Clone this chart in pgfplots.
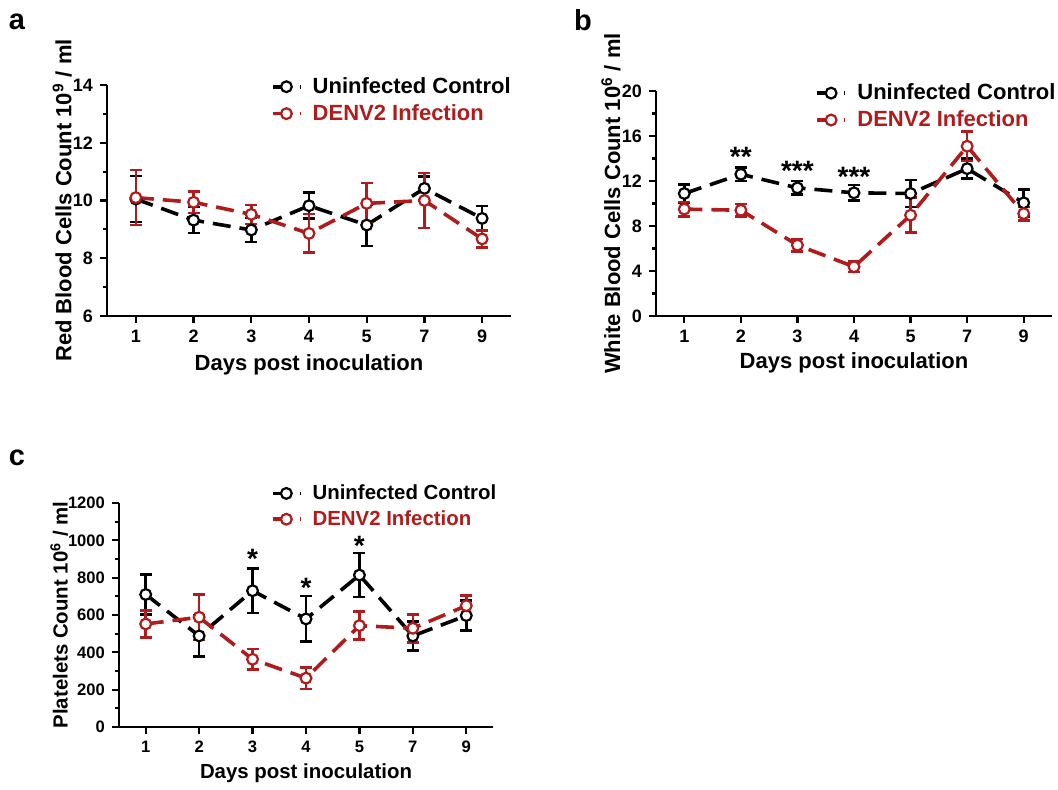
\documentclass[border=0pt]{standalone}
\usepackage{pgfplots}
\pgfplotsset{compat=1.18}
\usepackage{fontspec}
\setmainfont{Liberation Sans}
\definecolor{denv}{RGB}{176,28,28}

\pgfplotsset{
  gp/.style={
    scale only axis,
    axis lines*=left,
    axis line style={line width=1.2pt},
    xmin=-0.5, xmax=6.5,
    xtick={0,...,6}, xticklabels={1,2,3,4,5,7,9},
    tick align=outside,
    tick style={line width=1.1pt, black},
    major tick length=3.5pt, minor tick length=2pt,
    minor y tick num=1,
    ticklabel style={font=\bfseries\fontsize{9}{10}\selectfont},
    /pgf/number format/assume math mode=true,
    /pgf/number format/1000 sep={},
    label style={font=\bfseries\fontsize{11}{13}\selectfont},
    xlabel={Days post inoculation},
    legend style={draw=none, fill=none, anchor=north west,
      font=\bfseries\fontsize{11}{13.5}\selectfont},
    legend cell align=left,
    legend image code/.code={\draw[mark repeat=2,mark phase=2,##1]
      plot coordinates {(0cm,0cm) (0.24cm,0cm) (0.48cm,0cm)};
      \path (0.6cm,0cm);},
    clip=false,
  },
  ser/.style={#1, line width=1.8pt, dash pattern=on 9pt off 4.5pt,
    mark=*, mark size=2.7pt,
    mark options={solid, fill=white, draw=#1, line width=1.1pt},
    error bars/.cd, y dir=both, y explicit,
    error bar style={solid, line width=1.3pt, #1},
    error mark options={solid, rotate=90, line width=1.3pt, mark size=3pt, #1}},
}
\tikzset{star/.style={font=\bfseries\fontsize{14}{14}\selectfont, inner sep=0pt}}

\begin{document}
\begin{tikzpicture}
\useasboundingbox (0,0) rectangle (529pt,394.5pt);

% panel a
\node[font=\bfseries\fontsize{14.5}{15}\selectfont] at (8.5pt,383.5pt) {a};
\begin{axis}[gp, at={(53.5pt,236.5pt)}, anchor=south west,
  width=202pt, height=115.5pt,
  ymin=6, ymax=14, ytick={6,8,...,14},
  ylabel={Red Blood Cells Count 10\textsuperscript{9} / ml},
  ylabel style={at={(axis description cs:-0.111,0.5)}, anchor=center},
  xlabel style={at={(axis description cs:0.5,-0.212)}, anchor=center},
  legend style={at={(axis description cs:0.39,1.07)}}]
\addplot[ser=black] coordinates {
  (0,10.05) +- (0,0.80)
  (1,9.32)  +- (0,0.45)
  (2,8.98)  +- (0,0.42)
  (3,9.82)  +- (0,0.45)
  (4,9.15)  +- (0,0.72)
  (5,10.42) +- (0,0.42)
  (6,9.38)  +- (0,0.43)
};
\addplot[ser=denv] coordinates {
  (0,10.10) +- (0,0.95)
  (1,9.94)  +- (0,0.37)
  (2,9.52)  +- (0,0.33)
  (3,8.86)  +- (0,0.67)
  (4,9.90)  +- (0,0.70)
  (5,10.00) +- (0,0.95)
  (6,8.67)  +- (0,0.30)
};
\legend{Uninfected Control, \textcolor{denv}{DENV2 Infection}}
\end{axis}

% panel b
\node[font=\bfseries\fontsize{14.5}{15}\selectfont] at (291.5pt,384.5pt) {b};
\begin{axis}[gp, at={(328pt,236.5pt)}, anchor=south west,
  width=198pt, height=112.5pt,
  ymin=0, ymax=20, ytick={0,4,...,20},
  ylabel={White Blood Cells Count 10\textsuperscript{6} / ml},
  ylabel style={at={(axis description cs:-0.114,0.5)}, anchor=center},
  xlabel style={at={(axis description cs:0.5,-0.209)}, anchor=center},
  legend style={at={(axis description cs:0.387,1.07)}}]
\addplot[ser=black] coordinates {
  (0,10.89) +- (0,0.80)
  (1,12.60) +- (0,0.60)
  (2,11.39) +- (0,0.60)
  (3,10.95) +- (0,0.70)
  (4,10.89) +- (0,1.20)
  (5,13.10) +- (0,0.90)
  (6,10.06) +- (0,1.20)
};
\addplot[ser=denv] coordinates {
  (0,9.50)  +- (0,0.65)
  (1,9.40)  +- (0,0.55)
  (2,6.30)  +- (0,0.55)
  (3,4.38)  +- (0,0.48)
  (4,8.96)  +- (0,1.55)
  (5,15.09) +- (0,1.30)
  (6,9.10)  +- (0,0.60)
};
\legend{Uninfected Control, \textcolor{denv}{DENV2 Infection}}
\node[star] at (axis cs:1,14.11) {**};
\node[star] at (axis cs:2,12.92) {***};
\node[star] at (axis cs:3,12.38) {***};
\end{axis}

% panel c
\node[font=\bfseries\fontsize{14.5}{15}\selectfont] at (8.5pt,165.5pt) {c};
\begin{axis}[gp, at={(59.5pt,31pt)}, anchor=south west,
  width=187pt, height=112pt,
  ymin=0, ymax=1200, ytick={0,200,...,1200},
  ticklabel style={font=\bfseries\fontsize{8.3}{10}\selectfont},
  label style={font=\bfseries\fontsize{10.2}{12}\selectfont},
  ylabel={Platelets Count 10\textsuperscript{6} / ml},
  ylabel style={at={(axis description cs:-0.16,0.5)}, anchor=center},
  xlabel style={at={(axis description cs:0.5,-0.205)}, anchor=center},
  legend style={at={(axis description cs:0.389,1.12)},
    font=\bfseries\fontsize{10.2}{13.5}\selectfont}]
\addplot[ser=black] coordinates {
  (0,710) +- (0,107)
  (1,488) +- (0,110)
  (2,730) +- (0,120)
  (3,579) +- (0,122)
  (4,814) +- (0,118)
  (5,488) +- (0,78)
  (6,597) +- (0,80)
};
\addplot[ser=denv] coordinates {
  (0,552) +- (0,73)
  (1,588) +- (0,122)
  (2,363) +- (0,56)
  (3,262) +- (0,58)
  (4,543) +- (0,75)
  (5,529) +- (0,75)
  (6,650) +- (0,55)
};
\legend{Uninfected Control, \textcolor{denv}{DENV2 Infection}}
\node[star] at (axis cs:2,903) {*};
\node[star] at (axis cs:3,743) {*};
\node[star] at (axis cs:4,969) {*};
\end{axis}
\end{tikzpicture}
\end{document}
